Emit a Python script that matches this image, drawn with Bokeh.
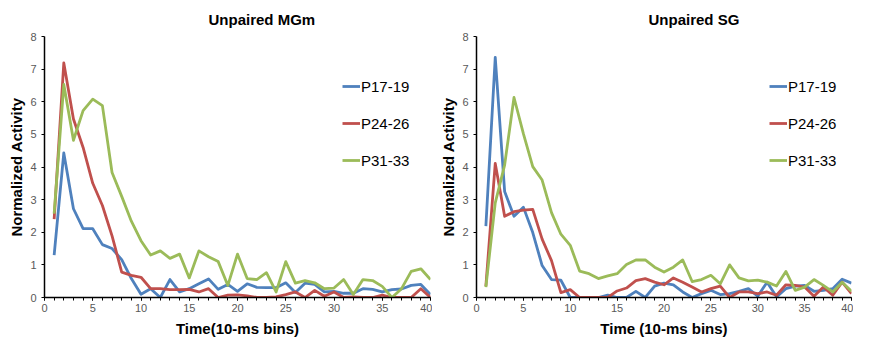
from bokeh.plotting import figure
from bokeh.models import Range1d, FixedTicker, Legend, LegendItem, Title
from bokeh.layouts import row
from bokeh.embed import file_html
from bokeh.resources import INLINE

bins = list(range(1, 41))

mgm_p17 = [1.30, 4.43, 2.72, 2.11, 2.11, 1.62, 1.50, 1.16, 0.58, 0.10,
           0.27, 0.00, 0.55, 0.17, 0.27, 0.42, 0.57, 0.25, 0.40, 0.19,
           0.42, 0.31, 0.30, 0.30, 0.45, 0.15, 0.44, 0.40, 0.17, 0.19,
           0.13, 0.13, 0.27, 0.25, 0.17, 0.24, 0.26, 0.37, 0.40, 0.09]
mgm_p24 = [2.40, 7.19, 5.47, 4.60, 3.50, 2.82, 1.89, 0.78, 0.68, 0.62,
           0.27, 0.27, 0.24, 0.24, 0.25, 0.17, 0.27, 0.00, 0.07, 0.08,
           0.05, 0.00, 0.00, 0.02, 0.09, 0.17, 0.00, 0.22, 0.04, 0.17,
           0.00, 0.02, 0.00, 0.00, 0.07, 0.00, 0.00, 0.00, 0.27, 0.00]
mgm_p31 = [2.57, 6.53, 4.82, 5.73, 6.08, 5.88, 3.83, 3.10, 2.34, 1.74,
           1.30, 1.43, 1.20, 1.33, 0.60, 1.43, 1.25, 1.10, 0.37, 1.33,
           0.58, 0.55, 0.76, 0.17, 1.10, 0.44, 0.52, 0.45, 0.27, 0.29,
           0.55, 0.09, 0.55, 0.52, 0.34, 0.00, 0.27, 0.80, 0.88, 0.55]

sg_p17 = [2.19, 7.36, 3.25, 2.49, 2.77, 1.99, 0.98, 0.55, 0.53, 0.00,
          0.00, 0.00, 0.00, 0.07, 0.00, 0.00, 0.19, 0.00, 0.35, 0.44,
          0.39, 0.17, 0.00, 0.12, 0.22, 0.09, 0.12, 0.19, 0.27, 0.04,
          0.47, 0.02, 0.27, 0.35, 0.37, 0.19, 0.22, 0.27, 0.56, 0.44]
sg_p24 = [0.35, 4.11, 2.49, 2.63, 2.68, 2.70, 1.79, 1.13, 0.15, 0.24,
          0.00, 0.00, 0.00, 0.00, 0.20, 0.29, 0.52, 0.58, 0.47, 0.39,
          0.60, 0.47, 0.32, 0.17, 0.27, 0.35, 0.00, 0.17, 0.17, 0.12,
          0.17, 0.07, 0.39, 0.37, 0.32, 0.04, 0.32, 0.07, 0.47, 0.12]
sg_p31 = [0.32, 2.90, 4.06, 6.13, 5.02, 4.01, 3.60, 2.60, 1.94, 1.60,
          0.81, 0.73, 0.58, 0.66, 0.73, 1.01, 1.15, 1.15, 0.93, 0.78,
          0.93, 1.15, 0.49, 0.55, 0.68, 0.42, 1.00, 0.60, 0.51, 0.53,
          0.47, 0.35, 0.80, 0.22, 0.32, 0.55, 0.37, 0.17, 0.47, 0.19]

series_names = ["P17-19", "P24-26", "P31-33"]
colors = ["#4F81BD", "#C0504D", "#9BBB59"]
x_ticks = list(range(0, 41, 5))
x_minor = list(range(0, 41))
y_ticks = list(range(0, 9))

FONT = "Liberation Sans"
H = 339


def make_panel(title, xlabel, series, width, left, right, title_offset, legend_x):
    p = figure(width=width, height=H, output_backend="svg", toolbar_location=None,
               x_range=Range1d(0, 40), y_range=Range1d(0, 8),
               min_border_left=left, min_border_right=right,
               min_border_top=32, min_border_bottom=40)
    p.title = Title(text=title, align="left", offset=title_offset, standoff=17,
                    text_font=FONT, text_font_size="15px", text_font_style="bold",
                    text_line_height=1.0, text_color="#000000")
    p.outline_line_color = None
    p.grid.visible = False
    p.background_fill_color = "white"
    p.border_fill_color = "white"

    p.xaxis.ticker = FixedTicker(ticks=x_ticks, minor_ticks=x_minor)
    p.yaxis.ticker = FixedTicker(ticks=y_ticks)
    for ax in (p.xaxis, p.yaxis):
        ax.axis_line_color = "#000000"
        ax.axis_line_width = 1.5
        ax.major_tick_line_color = "#000000"
        ax.minor_tick_line_color = "#000000"
        ax.major_tick_in = 0
        ax.major_tick_out = 3
        ax.minor_tick_in = 0
        ax.minor_tick_out = 3
        ax.major_label_text_font = FONT
        ax.major_label_text_font_size = "11px"
        ax.major_label_text_color = "#595959"
        ax.axis_label_text_font = FONT
        ax.axis_label_text_font_size = "15px"
        ax.axis_label_text_font_style = "bold"
        ax.axis_label_text_color = "#000000"
    p.yaxis.minor_tick_line_color = None
    p.xaxis.axis_label = xlabel
    p.yaxis.axis_label = "Normalized Activity"
    p.xaxis.axis_label_standoff = 5
    p.yaxis.axis_label_standoff = 2
    p.xaxis.major_label_standoff = 3
    p.yaxis.major_label_standoff = 5

    items = []
    for name, vals, c in zip(series_names, series, colors):
        r = p.line(bins, vals, line_color=c, line_width=2.8, line_join="round")
        items.append(LegendItem(label=name, renderers=[r]))
    leg = Legend(items=items, location=(legend_x, 127),
                 border_line_color=None, background_fill_alpha=0,
                 glyph_width=18, glyph_height=20, label_height=20,
                 spacing=17, padding=0, margin=0, label_standoff=1,
                 label_text_font=FONT, label_text_font_size="15px",
                 label_text_color="#000000")
    p.add_layout(leg)
    return p


p1 = make_panel("Unpaired MGm", "Time(10-ms bins)", [mgm_p17, mgm_p24, mgm_p31],
                432, 44, 2, 164, 298)
p2 = make_panel("Unpaired SG", "Time (10-ms bins)", [sg_p17, sg_p24, sg_p31],
                421, 44, 2, 172, 293)

layout = row(p1, p2)
open("out.html", "w").write(file_html(layout, INLINE))
